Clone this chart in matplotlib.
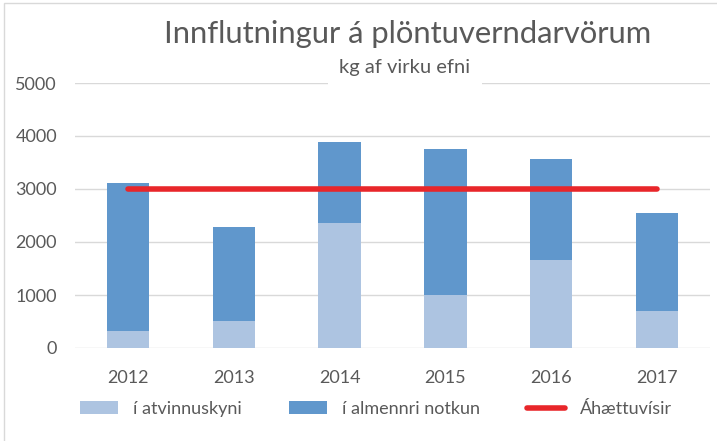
import matplotlib.pyplot as plt
from matplotlib.transforms import Bbox, TransformedBbox
from matplotlib.patches import Rectangle

plt.rcParams['font.family'] = ['Lato', 'DejaVu Sans']

# gögn lesin af myndinni
years = ['2012', '2013', '2014', '2015', '2016', '2017']
atvinnu = [320, 514, 2364, 1003, 1668, 702]
almenn = [2790, 1768, 1517, 2752, 1899, 1837]
ahaettu = [3000, 3000, 3000, 3000, 3000, 3000]

grey = '#595959'
light = '#ADC4E1'
dark = '#6097CC'

fig = plt.figure(figsize=(7.17, 4.41), dpi=100)
ax = fig.add_axes([75 / 717, 93 / 441, 635 / 717, 265 / 441])

x = range(len(years))
b1 = ax.bar(x, atvinnu, width=0.4, color=light, label='í atvinnuskyni', zorder=2)
b2 = ax.bar(x, almenn, width=0.4, bottom=atvinnu, color=dark, label='í almennri notkun', zorder=2)
l1, = ax.plot(x, ahaettu, color='#E8262A', lw=4, solid_capstyle='round', label='Áhættuvísir', zorder=3)

ax.set_xlim(-0.5, 5.5)
ax.set_ylim(0, 5000)
ax.set_yticks([0, 1000, 2000, 3000, 4000, 5000])
ax.set_xticks(list(x))
ax.set_xticklabels(years)
ax.grid(axis='y', color='#D9D9D9', lw=1, zorder=0)
ax.set_axisbelow(True)
for s in ax.spines.values():
    s.set_visible(False)
ax.tick_params(length=0, labelsize=13, labelcolor=grey)
ax.tick_params(axis='y', pad=13)
ax.tick_params(axis='x', pad=16)

# titill, klipptur að neðan eins og í frumritinu
t = fig.text(408 / 717, 1 - 43 / 441, 'Innflutningur á plöntuverndarvörum', ha='center', va='baseline',
             fontsize=22.3, color=grey)
t.set_clip_box(TransformedBbox(Bbox([[0, 1 - 48 / 441], [1, 1]]), fig.transFigure))
t.set_clip_on(True)
fig.text(405 / 717, 1 - 73 / 441, 'kg af virku efni', ha='center', va='baseline', fontsize=14.5, color=grey,
         bbox=dict(facecolor='white', edgecolor='none', pad=8), zorder=5)

fig.legend([b1, b2, l1], ['í atvinnuskyni', 'í almennri notkun', 'Áhættuvísir'],
           loc='center', bbox_to_anchor=(376 / 717, 1 - 409 / 441), ncol=3, frameon=False,
           fontsize=13, labelcolor=grey, handlelength=2.1, handletextpad=0.85, columnspacing=2.6)

fig.patches.append(Rectangle((4 / 717, -0.1), 1.2, 1.1 - 3 / 441, transform=fig.transFigure,
                             fill=False, edgecolor='#D9D9D9', lw=1))

fig.savefig('out.png', dpi=100)
